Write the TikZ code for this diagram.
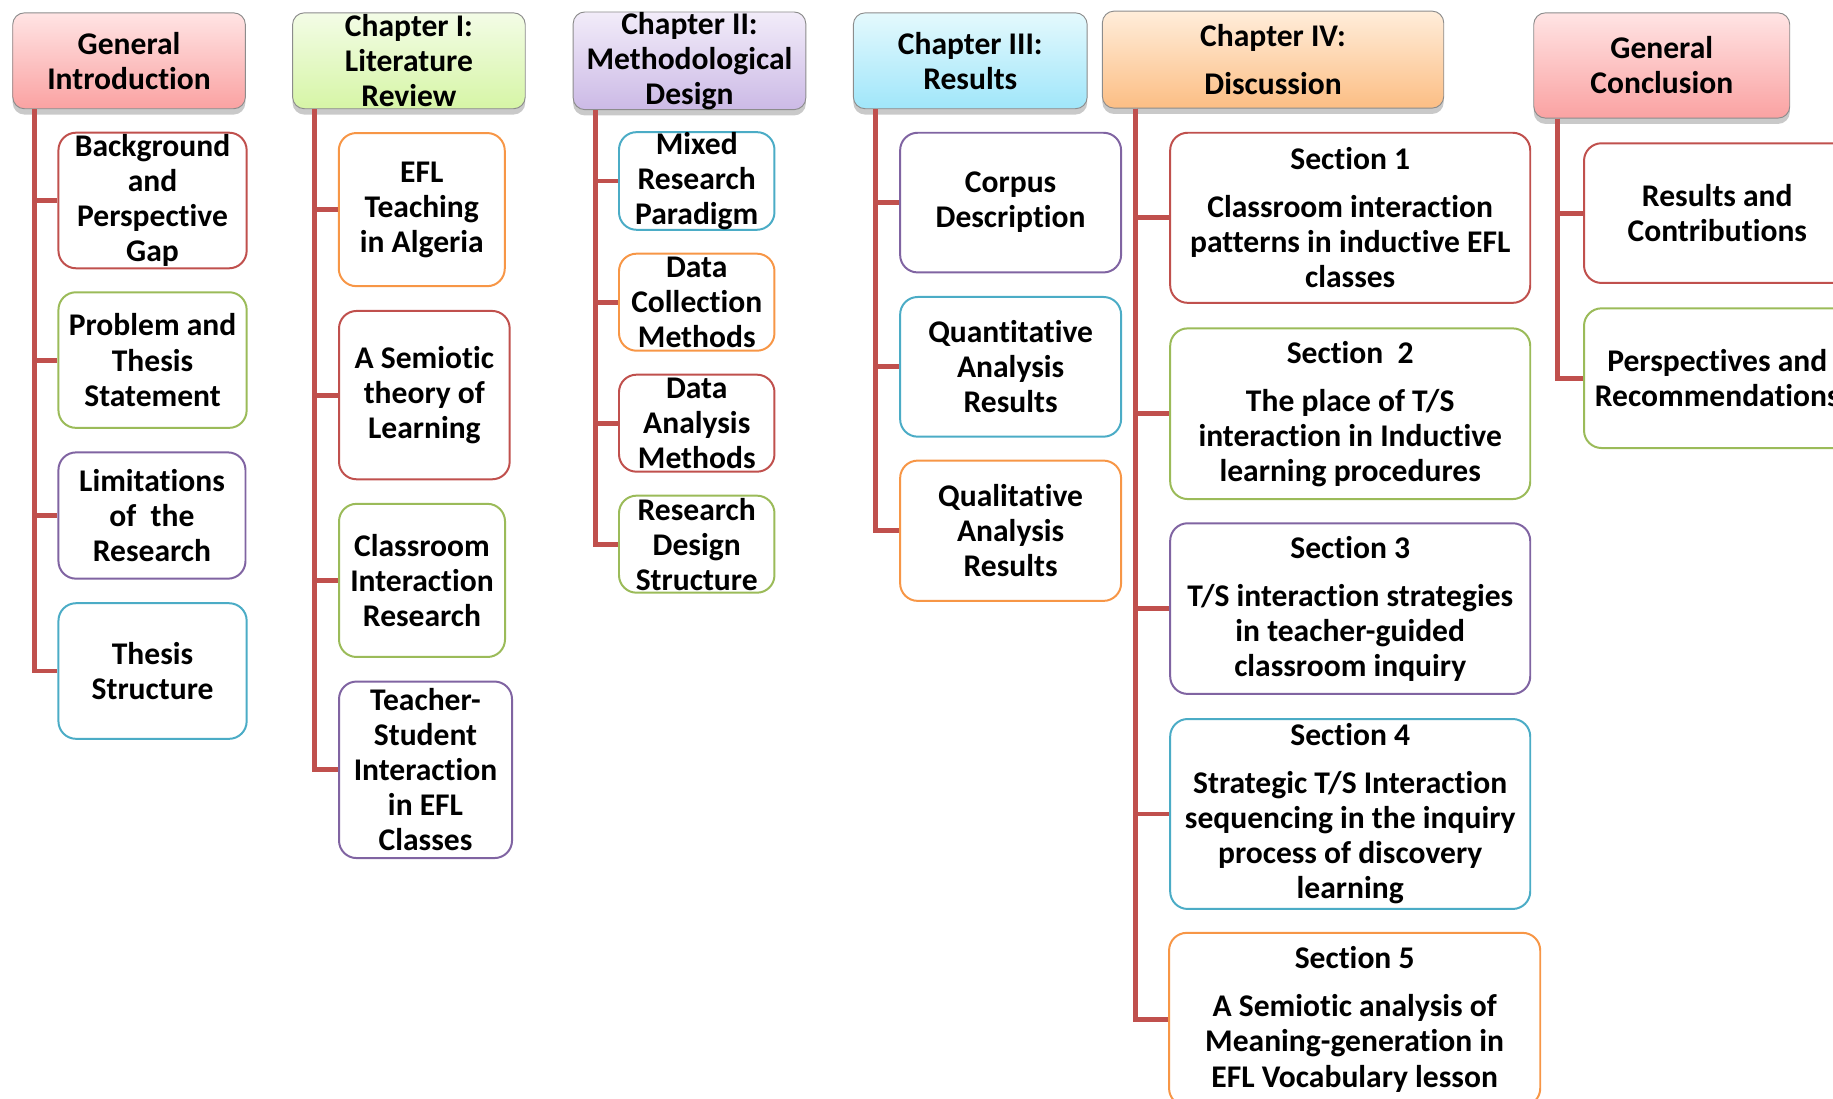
\documentclass[tikz,border=0pt]{standalone}
\usepackage{fontspec}
\setmainfont[Ligatures=NoCommon]{Carlito}
\usepackage{tikz}
\usetikzlibrary{calc, shadows}
\definecolor{tred}{RGB}{192, 80, 77}
\definecolor{ored}{RGB}{192, 80, 77}
\definecolor{ogreen}{RGB}{155, 187, 89}
\definecolor{opurple}{RGB}{128, 100, 162}
\definecolor{oaqua}{RGB}{75, 172, 198}
\definecolor{oorange}{RGB}{247, 150, 70}
\definecolor{pinktop}{RGB}{255, 228, 228}
\definecolor{pinkbot}{RGB}{250, 162, 162}
\definecolor{greentop}{RGB}{243, 252, 230}
\definecolor{greenbot}{RGB}{214, 245, 166}
\definecolor{lilactop}{RGB}{242, 236, 249}
\definecolor{lilacbot}{RGB}{204, 186, 230}
\definecolor{cyantop}{RGB}{228, 249, 253}
\definecolor{cyanbot}{RGB}{160, 230, 250}
\definecolor{peachtop}{RGB}{255, 237, 218}
\definecolor{peachbot}{RGB}{252, 190, 132}

\begin{document}
\begin{tikzpicture}[x=1pt, y=-1pt,
  hdr/.style={draw=black!45, line width=0.8pt, rounded corners=10pt,
              minimum width=200pt, minimum height=82pt, inner sep=0pt,
              align=center, font={\bfseries\fontsize{27}{30}\selectfont},
              drop shadow={shadow xshift=0pt, shadow yshift=-5pt,
                           opacity=0.3, fill=black!70}},
  pinkhdr/.style={hdr, top color=pinktop, bottom color=pinkbot},
  greenhdr/.style={hdr, top color=greentop, bottom color=greenbot},
  lilachdr/.style={hdr, top color=lilactop, bottom color=lilacbot},
  cyanhdr/.style={hdr, top color=cyantop, bottom color=cyanbot},
  peachhdr/.style={hdr, top color=peachtop, bottom color=peachbot},
  sub/.style={draw, line width=1.7pt, rounded corners=15pt, fill=white,
              inner sep=0pt, align=center,
              font={\bfseries\fontsize{27}{30}\selectfont}},
  trunk/.style={draw=tred, line width=4.2pt}
]
\useasboundingbox (0,0) rectangle (1568,940);

% General Introduction
\node[pinkhdr, minimum width=199pt] (gi) at (110.4,52) {General\\Introduction};
\node[sub, draw=ored, minimum width=161pt, minimum height=116pt] (bg) at (130.5,171.5) {Background\\and\\Perspective\\Gap};
\node[sub, draw=ogreen, minimum width=161pt, minimum height=116pt] (ps) at (130.5,308) {Problem and\\Thesis\\Statement};
\node[sub, draw=opurple, minimum width=160pt, minimum height=108pt] (lr) at (130,441) {Limitations\\of~ the\\Research};
\node[sub, draw=oaqua, minimum width=161pt, minimum height=116pt] (ts) at (130.5,574) {Thesis\\Structure};

% Chapter I
\node[greenhdr, minimum width=199pt] (ch1) at (349.8,52) {Chapter I:\\Literature\\Review};
\node[sub, draw=oorange, minimum width=142pt, minimum height=131pt] (efl) at (360.8,179.3) {EFL\\Teaching\\in Algeria};
\node[sub, draw=ored, minimum width=146pt, minimum height=144pt] (sem) at (363,338) {A Semiotic\\theory of\\Learning};
\node[sub, draw=ogreen, minimum width=142pt, minimum height=131pt] (cir) at (361,496.5) {Classroom\\Interaction\\Research};
\node[sub, draw=opurple, minimum width=148pt, minimum height=151pt] (tsi) at (364,658.5) {Teacher-\\Student\\Interaction\\in EFL\\Classes};

% Chapter II
\node[lilachdr, minimum width=199pt] (ch2) at (589.8,52) {Chapter II:\\Methodological\\Design};
\node[sub, draw=oaqua, minimum width=133pt, minimum height=82.5pt] (mrp) at (596,154.8) {Mixed\\Research\\Paradigm};
\node[sub, draw=oorange, minimum width=133pt, minimum height=83pt] (dcm) at (596,258.5) {Data\\Collection\\Methods};
\node[sub, draw=ored, minimum width=133pt, minimum height=83pt] (dam) at (596,362) {Data\\Analysis\\Methods};
\node[sub, draw=ogreen, minimum width=133pt, minimum height=83pt] (rds) at (596,465.5) {Research\\Design\\Structure};

% Chapter III
\node[cyanhdr, minimum width=200pt] (ch3) at (830,52) {Chapter III:\\Results};
\node[sub, draw=opurple, minimum width=189pt, minimum height=119.5pt] (cd) at (864.5,173.3) {Corpus\\Description};
\node[sub, draw=oaqua, minimum width=189pt, minimum height=119.5pt] (qnt) at (864.5,313.8) {Quantitative\\Analysis\\Results};
\node[sub, draw=oorange, minimum width=189pt, minimum height=120pt] (qlt) at (864.5,454) {Qualitative\\Analysis\\Results};

% Chapter IV
\node[peachhdr, minimum width=292pt, minimum height=83pt] (ch4) at (1089,51) {Chapter IV:\\[11pt]Discussion};
\node[sub, draw=ored, minimum width=308pt, minimum height=145.5pt] (s1) at (1155,186.3) {Section 1\\[11pt]Classroom interaction\\patterns in inductive EFL\\classes};
\node[sub, draw=ogreen, minimum width=308pt, minimum height=146pt] (s2) at (1155,353.9) {Section~ 2\\[11pt]The place of T/S\\interaction in Inductive\\learning procedures};
\node[sub, draw=opurple, minimum width=308pt, minimum height=146pt] (s3) at (1155,520.6) {Section 3\\[11pt]T/S interaction strategies\\in teacher-guided\\classroom inquiry};
\node[sub, draw=oaqua, minimum width=308pt, minimum height=162.5pt] (s4) at (1155,696.3) {Section 4\\[11pt]Strategic T/S Interaction\\sequencing in the inquiry\\process of discovery\\learning};
\node[sub, draw=oorange, minimum width=317.5pt, minimum height=148pt] (s5) at (1158.8,872) {Section 5\\[11pt]A Semiotic analysis of\\Meaning-generation in\\EFL Vocabulary lesson};

% General Conclusion
\node[pinkhdr, minimum width=219pt, minimum height=90pt] (gc) at (1421.5,56) {General\\Conclusion};
\node[sub, draw=ored, minimum width=228pt, minimum height=119.5pt] (rc) at (1469,182.3) {Results and\\Contributions};
\node[sub, draw=ogreen, minimum width=228pt, minimum height=119.5pt] (pr) at (1469,323.5) {Perspectives and\\Recommendations};

% Trunks
\coordinate (git) at ($(gi.south west)+(19,0)$);
\draw[trunk] (git) |- (bg.west);
\draw[trunk] (git) |- (ps.west);
\draw[trunk] (git) |- (lr.west);
\draw[trunk] (git) |- (ts.west);

\coordinate (ch1t) at ($(ch1.south west)+(19.5,0)$);
\draw[trunk] (ch1t) |- (efl.west);
\draw[trunk] (ch1t) |- (sem.west);
\draw[trunk] (ch1t) |- (cir.west);
\draw[trunk] (ch1t) |- (tsi.west);

\coordinate (ch2t) at ($(ch2.south west)+(19.6,0)$);
\draw[trunk] (ch2t) |- (mrp.west);
\draw[trunk] (ch2t) |- (dcm.west);
\draw[trunk] (ch2t) |- (dam.west);
\draw[trunk] (ch2t) |- (rds.west);

\coordinate (ch3t) at ($(ch3.south west)+(19.6,0)$);
\draw[trunk] (ch3t) |- (cd.west);
\draw[trunk] (ch3t) |- (qnt.west);
\draw[trunk] (ch3t) |- (qlt.west);

\coordinate (ch4t) at ($(ch4.south west)+(29,0)$);
\draw[trunk] (ch4t) |- (s1.west);
\draw[trunk] (ch4t) |- (s2.west);
\draw[trunk] (ch4t) |- (s3.west);
\draw[trunk] (ch4t) |- (s4.west);
\draw[trunk] (ch4t) |- (s5.west);

\coordinate (gct) at ($(gc.south west)+(21,0)$);
\draw[trunk] (gct) |- (rc.west);
\draw[trunk] (gct) |- (pr.west);

\end{tikzpicture}
\end{document}
